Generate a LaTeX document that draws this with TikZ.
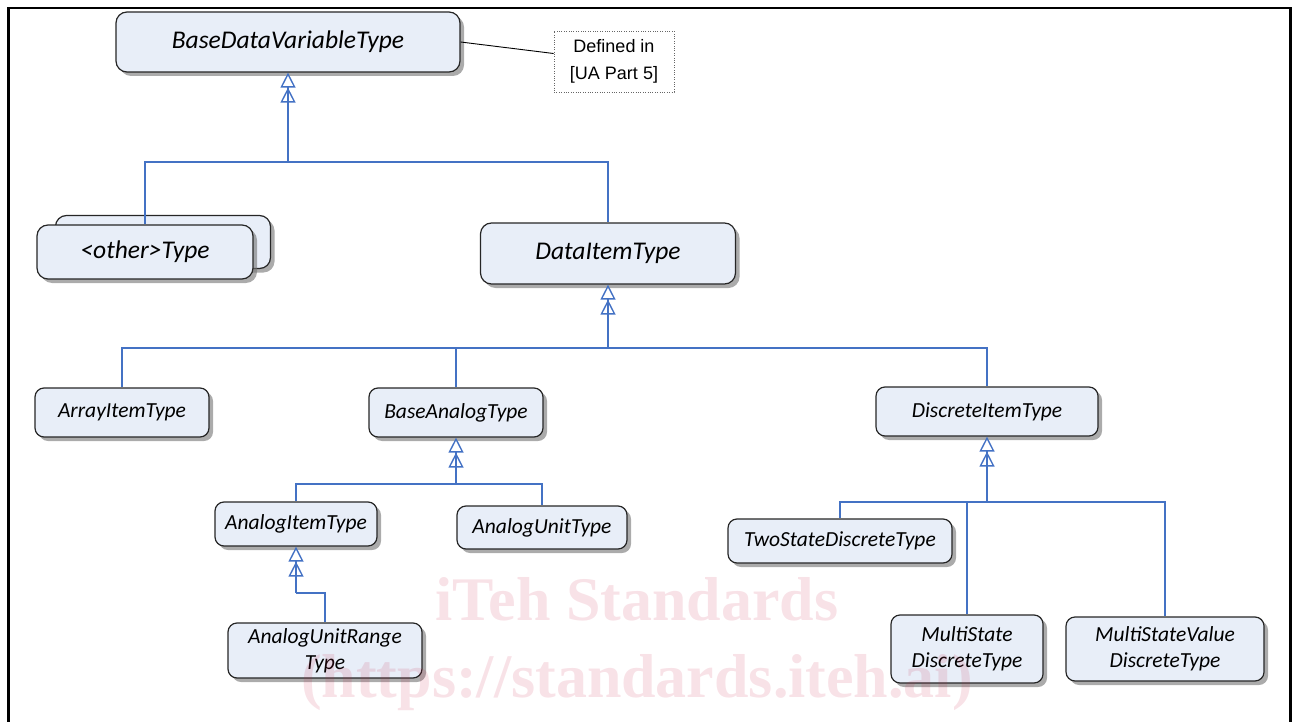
\documentclass[tikz,border=0pt]{standalone}
\usepackage{fontspec}
\setmainfont{Carlito}
\newfontfamily\notefont{Liberation Sans}
\newfontfamily\wmfont{Liberation Serif}
\usetikzlibrary{arrows.meta,shadows}
\definecolor{umlblue}{RGB}{68,114,196}
\definecolor{umlfill}{RGB}{232,238,248}
\definecolor{wmpink}{RGB}{200,30,70}

\begin{document}
\begin{tikzpicture}[x=1pt,y=-1pt,
    cls/.style={draw=black!85,fill=umlfill,line width=1.2pt,rounded corners=9pt,
      align=center,inner sep=0pt,font=\itshape\fontsize{21.5}{26}\selectfont,
      drop shadow={shadow xshift=4pt,shadow yshift=-4pt,fill=black!55,opacity=.6}},
    big/.style={cls,rounded corners=11pt,font=\itshape\fontsize{25.5}{30}\selectfont},
    link/.style={draw=umlblue,line width=1.4pt},
    gen/.style={link,-{Triangle[open,length=15pt,width=15pt,sep=0pt]Triangle[open,length=15pt,width=15pt,sep=0pt]}}]
    \useasboundingbox (0,0) rectangle (1295,722);
    \draw[line width=2.5pt] (8.5,722) -- (8.5,8) -- (1290.5,8) -- (1290.5,722);
    % Obere Ebene mit Notiz, darunter die Ableitungen.
    \node[big,minimum width=344pt,minimum height=60pt] (base) at (288,42) {BaseDataVariableType};
    \node[draw=black!60,dash pattern=on .8pt off 1.6pt,line width=.8pt,align=center,
      minimum width=120pt,minimum height=61pt,font=\notefont\fontsize{18}{27}\selectfont]
      (note) at (614,61.5) {Defined in\\{}[UA Part 5]};
    \draw[line width=.9pt] (base.east) -- ([yshift=8pt]note.west);
    \node[big,minimum width=215pt,minimum height=53pt] (otherbk) at (163,242) {};
    \node[big,minimum width=216pt,minimum height=54pt] (other) at (145,252) {<other>Type};
    \node[big,minimum width=255pt,minimum height=61pt] (dataitem) at (608,253.5) {DataItemType};
    \foreach \name/\pos/\w/\h/\txt in {
        arrayitem/{122,412.5}/174/49/ArrayItemType,
        baseanalog/{456,412.5}/174/49/BaseAnalogType,
        discrete/{987,411.5}/222/49/DiscreteItemType,
        analogitem/{296,524}/162/44/AnalogItemType,
        analogunit/{542,527.5}/170/43/AnalogUnitType,
        range/{325,650.5}/194/55/{AnalogUnitRange\\Type},
        twostate/{840,541}/224/44/TwoStateDiscreteType,
        multistate/{967,649}/152/68/{MultiState\\DiscreteType},
        multivalue/{1165,649}/198/64/{MultiStateValue\\DiscreteType}}{
      \node[cls,minimum width=\w pt,minimum height=\h pt] (\name) at (\pos) {\txt};
    }
    \coordinate (jtop) at (288,162);
    \coordinate (jdata) at (608,348);
    \coordinate (janalog) at (456,484);
    \coordinate (jrange) at (296,593);
    \coordinate (jdiscrete) at (987,502);
    \draw[gen] (jtop) -- (base.south);
    \draw[link] (other.north) |- (jtop) -| (dataitem.north);
    \draw[gen] (jdata) -- (dataitem.south);
    \draw[link] (arrayitem.north) |- (jdata) -| (discrete.north);
    \draw[link] (baseanalog.north) -- (baseanalog.north |- jdata);
    \draw[gen] (janalog) -- (baseanalog.south);
    \draw[link] (analogitem.north) |- (janalog) -| (analogunit.north);
    \draw[gen] (jrange) -- (analogitem.south);
    \draw[link] (range.north) |- (jrange);
    \draw[gen] (jdiscrete) -- (discrete.south);
    \draw[link] (twostate.north) |- (jdiscrete) -| (multivalue.north);
    \draw[link] (multistate.north) -- (multistate.north |- jdiscrete);
    \node[align=center,font=\wmfont\bfseries\fontsize{62}{77}\selectfont,
      text=wmpink,text opacity=.13] (wm) at (637,644) {iTeh Standards\\(https://standards.iteh.ai)};
\end{tikzpicture}
\end{document}
